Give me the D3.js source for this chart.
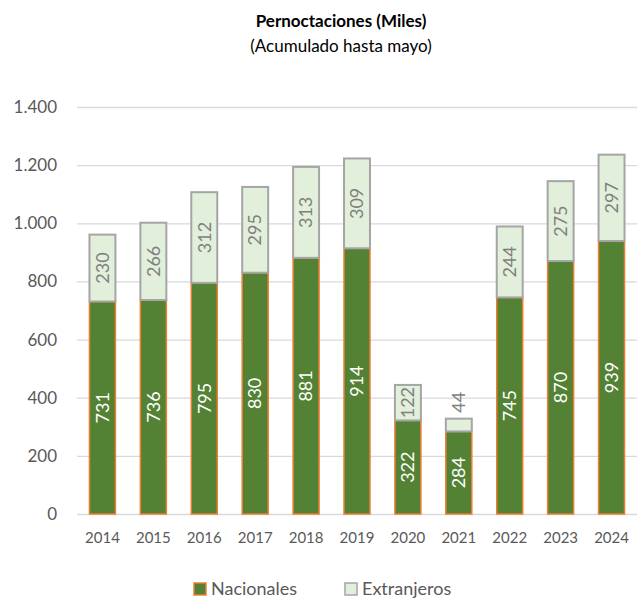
<!DOCTYPE html>
<html>
<head>
  <meta charset="utf-8">
  <title>Pernoctaciones</title>
  <script src="https://cdn.jsdelivr.net/npm/d3@7"></script>
  <style>
    body { margin: 0; background: white; }
    svg text { font-family: Lato, "Open Sans", sans-serif; }
  </style>
</head>
<body>
<div id="chart"></div>
<script>
  var years = ['2014', '2015', '2016', '2017', '2018', '2019', '2020', '2021', '2022', '2023', '2024'];
  var nacionales = [731, 736, 795, 830, 881, 914, 322, 284, 745, 870, 939];
  var extranjeros = [230, 266, 312, 295, 313, 309, 122, 44, 244, 275, 297];
  var yTicks = [0, 200, 400, 600, 800, 1000, 1200, 1400];

  var width = 637, height = 602;
  var plotLeft = 77, plotRight = 637, plotTop = 107, plotBottom = 514;

  var svg = d3.select('#chart').append('svg')
    .attr('width', width)
    .attr('height', height);

  var x = d3.scaleBand().domain(years).range([plotLeft, plotRight]).paddingInner(0.49).paddingOuter(0.245);
  var y = d3.scaleLinear().domain([0, 1400]).range([plotBottom, plotTop]);
  var fmt = function (v) { return d3.format(',')(v).replace(/,/g, '.'); };

  // title
  svg.append('text').attr('x', 341).attr('y', 27).attr('text-anchor', 'middle')
    .style('font-size', '17px').style('font-weight', 'bold').attr('fill', '#000')
    .text('Pernoctaciones (Miles)');
  svg.append('text').attr('x', 341).attr('y', 52).attr('text-anchor', 'middle')
    .style('font-size', '17px').attr('fill', '#000')
    .text('(Acumulado hasta mayo)');

  // gridlines + y labels
  var yAxis = d3.axisLeft(y).tickValues(yTicks).tickFormat(fmt).tickSize(-(plotRight - plotLeft)).tickPadding(20);
  var gy = svg.append('g').attr('transform', 'translate(' + plotLeft + ',0)').call(yAxis);
  gy.select('.domain').remove();
  gy.selectAll('line').attr('stroke', '#d9d9d9').attr('stroke-width', 1.3);
  gy.selectAll('text').style('font-size', '17px').attr('fill', '#595959');

  // x labels
  var xAxis = d3.axisBottom(x).tickSize(0).tickPadding(18);
  var gx = svg.append('g').attr('transform', 'translate(0,' + plotBottom + ')').call(xAxis);
  gx.select('.domain').remove();
  gx.selectAll('text').style('font-size', '15px').attr('fill', '#595959');

  var data = years.map(function (yr, i) {
    return { year: yr, nac: nacionales[i], ext: extranjeros[i] };
  });

  // nacionales
  svg.selectAll('rect.nac').data(data).enter().append('rect')
    .attr('class', 'nac')
    .attr('x', function (d) { return x(d.year); })
    .attr('width', x.bandwidth())
    .attr('y', function (d) { return y(d.nac); })
    .attr('height', function (d) { return y(0) - y(d.nac); })
    .attr('fill', '#548235')
    .attr('stroke', '#ED7D31')
    .attr('stroke-width', 1.5);

  // extranjeros
  svg.selectAll('rect.ext').data(data).enter().append('rect')
    .attr('class', 'ext')
    .attr('x', function (d) { return x(d.year); })
    .attr('width', x.bandwidth())
    .attr('y', function (d) { return y(d.nac + d.ext); })
    .attr('height', function (d) { return y(d.nac) - y(d.nac + d.ext); })
    .attr('fill', '#E2EFDA')
    .attr('stroke', '#A5A5A5')
    .attr('stroke-width', 2);

  // value labels, rotated
  function addLabel(cx, cy, txt, color, anchor) {
    svg.append('text')
      .attr('transform', 'translate(' + cx + ',' + cy + ') rotate(-90)')
      .attr('text-anchor', anchor)
      .attr('dy', '0.35em')
      .style('font-size', '18px')
      .attr('fill', color)
      .text(txt);
  }
  data.forEach(function (d) {
    var cx = x(d.year) + x.bandwidth() / 2;
    addLabel(cx, (y(0) + y(d.nac)) / 2, d.nac, '#ffffff', 'middle');
    var h = y(d.nac) - y(d.nac + d.ext);
    if (h > 28) {
      addLabel(cx, (y(d.nac) + y(d.nac + d.ext)) / 2, d.ext, '#7F7F7F', 'middle');
    } else {
      addLabel(cx, y(d.nac + d.ext) - 6, d.ext, '#7F7F7F', 'start');
    }
  });

  // legend
  var legend = [
    { name: 'Nacionales', fill: '#548235', stroke: '#ED7D31', x: 194 },
    { name: 'Extranjeros', fill: '#E2EFDA', stroke: '#A5A5A5', x: 345 }
  ];
  var lg = svg.selectAll('g.legend').data(legend).enter().append('g')
    .attr('transform', function (d) { return 'translate(' + d.x + ',589)'; });
  lg.append('rect').attr('x', 0).attr('y', -6).attr('width', 12).attr('height', 12)
    .attr('fill', function (d) { return d.fill; })
    .attr('stroke', function (d) { return d.stroke; })
    .attr('stroke-width', 1.5);
  lg.append('text').attr('x', 17).attr('dy', '0.35em')
    .style('font-size', '18px').attr('fill', '#595959')
    .text(function (d) { return d.name; });
</script>
</body>
</html>
